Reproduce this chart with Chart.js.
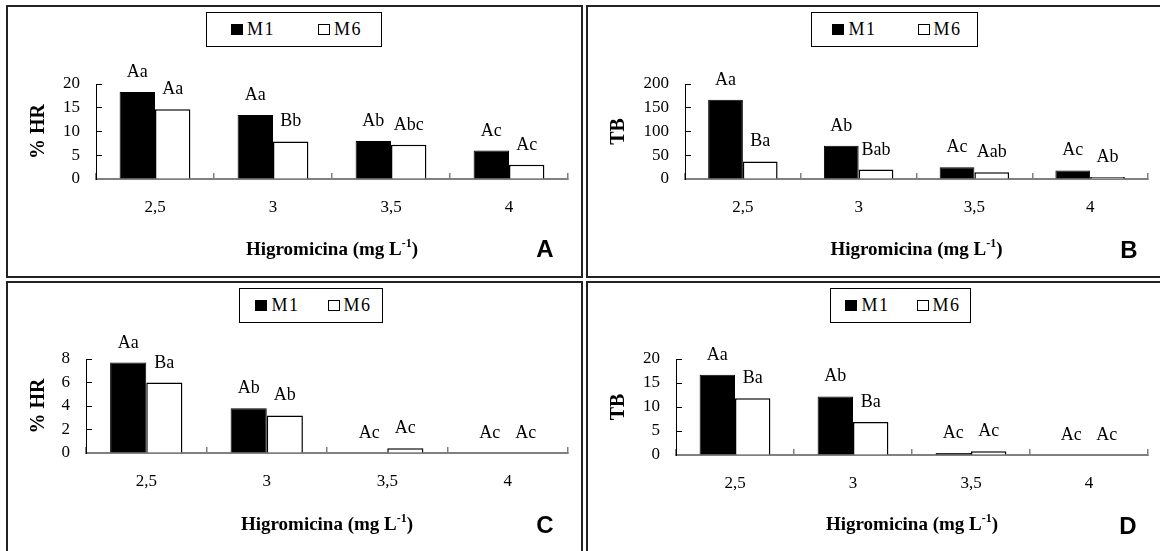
<!DOCTYPE html>
<html>
<head>
<meta charset="utf-8">
<script src="https://cdn.jsdelivr.net/npm/chart.js@4.4.1/dist/chart.umd.min.js"></script>
<style>
  html, body { margin: 0; padding: 0; background: #fff; }
  body { width: 1160px; height: 551px; position: relative; overflow: hidden; font-family: "Liberation Serif", serif; }
  .box { position: absolute; border: 2px solid #222; box-sizing: border-box; }
  canvas { position: absolute; }
  .legend { position: absolute; height: 35px; border: 1.5px solid #000; box-sizing: border-box; background: #fff;
            display: flex; align-items: center; justify-content: center; padding-left: 5px;
            font-size: 18px; letter-spacing: 1.5px; color: #000; }
  .legend .item { display: flex; align-items: center; }
  .legend .sw { width: 12px; height: 11px; box-sizing: border-box; border: 1px solid #000; margin-right: 4px; }
  .tag { position: absolute; transform: translate(-50%, -50%); line-height: 1;
         font-family: "Liberation Sans", Arial, sans-serif; font-weight: bold; font-size: 24px; color: #000; }
</style>
</head>
<body>
<div class="box" style="left:6px;top:5px;width:577px;height:273px"></div>
<div class="box" style="left:586px;top:5px;width:580px;height:273px"></div>
<div class="box" style="left:6px;top:281px;width:577px;height:280px"></div>
<div class="box" style="left:586px;top:281px;width:580px;height:280px"></div>

<canvas id="chartA" width="580" height="276" style="left:0;top:0"></canvas>
<canvas id="chartB" width="580" height="276" style="left:580px;top:0"></canvas>
<canvas id="chartC" width="580" height="275" style="left:0;top:276px"></canvas>
<canvas id="chartD" width="580" height="275" style="left:580px;top:276px"></canvas>

<div class="legend" id="legendA" style="left:206px;top:12px;width:176px"></div>
<div class="legend" id="legendB" style="left:811px;top:12px;width:167px"></div>
<div class="legend" id="legendC" style="left:239px;top:288px;width:144px"></div>
<div class="legend" id="legendD" style="left:830px;top:288px;width:141px"></div>

<div class="tag" style="left:545px;top:249px">A</div>
<div class="tag" style="left:1129px;top:250px">B</div>
<div class="tag" style="left:545px;top:525px">C</div>
<div class="tag" style="left:1128px;top:526px">D</div>

<script>
// categories and series
const categories = ['2,5', '3', '3,5', '4'];
const seriesNames = ['M1', 'M6'];
const seriesFill = ['#000', '#fff'];

// A - % HR
const hrA_M1 = [18.3, 13.5, 8.0, 6.0];
const hrA_M6 = [14.7, 7.9, 7.2, 3.0];
const lettersA_M1 = ['Aa', 'Aa', 'Ab', 'Ac'];
const lettersA_M6 = ['Aa', 'Bb', 'Abc', 'Ac'];

// B - TB
const tbB_M1 = [167, 70, 25, 18];
const tbB_M6 = [37, 20, 14, 4];
const lettersB_M1 = ['Aa', 'Ab', 'Ac', 'Ac'];
const lettersB_M6 = ['Ba', 'Bab', 'Aab', 'Ab'];

// C - % HR
const hrC_M1 = [7.7, 3.8, 0, 0];
const hrC_M6 = [6.0, 3.2, 0.4, 0];
const lettersC_M1 = ['Aa', 'Ab', 'Ac', 'Ac'];
const lettersC_M6 = ['Ba', 'Ab', 'Ac', 'Ac'];

// D - TB
const tbD_M1 = [16.7, 12.2, 0.4, 0];
const tbD_M6 = [11.8, 6.9, 0.8, 0];
const lettersD_M1 = ['Aa', 'Ab', 'Ac', 'Ac'];
const lettersD_M6 = ['Ba', 'Ba', 'Ac', 'Ac'];

// y axis ranges
const yMaxA = 20, yStepA = 5;
const yMaxB = 200, yStepB = 50;
const yMaxC = 8, yStepC = 2;
const yMaxD = 20, yStepD = 5;

const xTitle = 'Higromicina (mg L';
const xTitleSup = '-1';

// letters above each bar
const barLetters = {
    id: 'barLetters',
    afterDatasetsDraw(chart) {
        const ctx = chart.ctx;
        ctx.save();
        ctx.font = '18px "Liberation Serif"';
        ctx.fillStyle = '#000';
        ctx.textAlign = 'center';
        ctx.textBaseline = 'alphabetic';
        chart.data.datasets.forEach(function(ds, i) {
            chart.getDatasetMeta(i).data.forEach(function(bar, j) {
                ctx.fillText(ds.letters[j], bar.x, bar.y - 15);
            });
        });
        ctx.restore();
    }
};

// x axis title with the superscript
const unitTitle = {
    id: 'unitTitle',
    afterDraw(chart) {
        const ctx = chart.ctx;
        const sx = chart.scales.x;
        const cx = (sx.left + sx.right) / 2;
        const y = chart.height - 21;
        ctx.save();
        ctx.fillStyle = '#000';
        ctx.textBaseline = 'alphabetic';
        ctx.font = 'bold 19px "Liberation Serif"';
        const w1 = ctx.measureText(xTitle).width;
        const w3 = ctx.measureText(')').width;
        ctx.font = 'bold 12px "Liberation Serif"';
        const w2 = ctx.measureText(xTitleSup).width;
        let x = cx - (w1 + w2 + w3) / 2;
        ctx.textAlign = 'left';
        ctx.font = 'bold 19px "Liberation Serif"';
        ctx.fillText(xTitle, x, y);
        ctx.font = 'bold 12px "Liberation Serif"';
        ctx.fillText(xTitleSup, x + w1, y - 8);
        ctx.font = 'bold 19px "Liberation Serif"';
        ctx.fillText(')', x + w1 + w2, y);
        ctx.restore();
    }
};

function buildLegend(id, gap) {
    const el = document.getElementById(id);
    el.style.gap = gap + 'px';
    seriesNames.forEach(function(name, i) {
        const item = document.createElement('span');
        item.className = 'item';
        const sw = document.createElement('span');
        sw.className = 'sw';
        sw.style.background = seriesFill[i];
        item.appendChild(sw);
        item.appendChild(document.createTextNode(name));
        el.appendChild(item);
    });
}

function drawPanel(canvasId, cfg) {
    const canvas = document.getElementById(canvasId);
    const W = canvas.width, H = canvas.height;
    return new Chart(canvas, {
        type: 'bar',
        data: {
            labels: categories,
            datasets: [
                { label: seriesNames[0], data: cfg.m1, letters: cfg.l1,
                  backgroundColor: seriesFill[0], borderColor: '#000', borderWidth: 1 },
                { label: seriesNames[1], data: cfg.m6, letters: cfg.l6,
                  backgroundColor: seriesFill[1], borderColor: '#000', borderWidth: 1.5 }
            ]
        },
        options: {
            responsive: false,
            animation: false,
            events: [],
            layout: { padding: { top: cfg.top, right: W - cfg.right, left: 0, bottom: 0 } },
            datasets: { bar: { categoryPercentage: 0.6, barPercentage: 1 } },
            plugins: { legend: { display: false }, tooltip: { enabled: false } },
            scales: {
                x: {
                    grid: { drawOnChartArea: false, tickLength: -6, color: '#808080', lineWidth: 1.5 },
                    border: { color: '#808080', width: 2 },
                    ticks: { color: '#000', padding: 24, font: { family: 'Liberation Serif', size: 17 } },
                    afterFit: function(s) { s.height = H - cfg.bottom; }
                },
                y: {
                    min: 0,
                    max: cfg.max,
                    ticks: { stepSize: cfg.step, color: '#000', padding: 22, font: { family: 'Liberation Serif', size: 17 } },
                    grid: { drawOnChartArea: false, tickLength: -6, color: '#000', lineWidth: 1 },
                    border: { color: '#000', width: 1 },
                    title: { display: true, text: cfg.yTitle, color: '#000', padding: { top: 27, bottom: 0 },
                             font: { family: 'Liberation Serif', size: 20, weight: 'bold' } },
                    afterFit: function(s) { s.width = cfg.left; }
                }
            }
        },
        plugins: [barLetters, unitTitle]
    });
}

[['legendA', 43], ['legendB', 41], ['legendC', 28], ['legendD', 27]].forEach(function(l) {
    buildLegend(l[0], l[1]);
});

drawPanel('chartA', { m1: hrA_M1, m6: hrA_M6, l1: lettersA_M1, l6: lettersA_M6, max: yMaxA, step: yStepA,
    yTitle: '% HR', left: 96, right: 568, top: 84, bottom: 179 });
drawPanel('chartB', { m1: tbB_M1, m6: tbB_M6, l1: lettersB_M1, l6: lettersB_M6, max: yMaxB, step: yStepB,
    yTitle: 'TB', left: 105, right: 568, top: 84, bottom: 179 });
drawPanel('chartC', { m1: hrC_M1, m6: hrC_M6, l1: lettersC_M1, l6: lettersC_M6, max: yMaxC, step: yStepC,
    yTitle: '% HR', left: 86, right: 568, top: 83, bottom: 177 });
drawPanel('chartD', { m1: tbD_M1, m6: tbD_M6, l1: lettersD_M1, l6: lettersD_M6, max: yMaxD, step: yStepD,
    yTitle: 'TB', left: 96, right: 568, top: 83, bottom: 179 });
</script>
</body>
</html>
